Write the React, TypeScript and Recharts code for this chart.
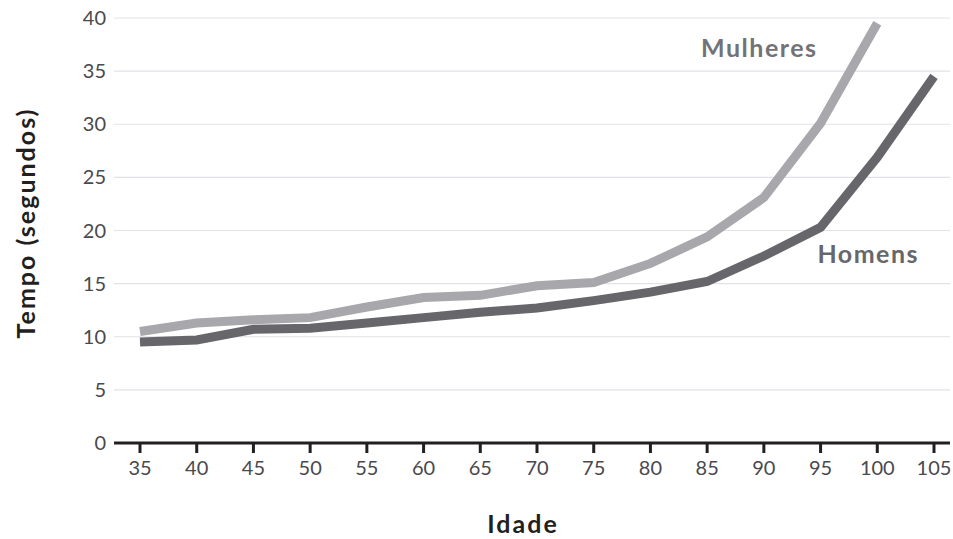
import React from "react";
import { LineChart, Line, XAxis, YAxis, CartesianGrid, ReferenceDot, Label } from "recharts";

const ages = [35, 40, 45, 50, 55, 60, 65, 70, 75, 80, 85, 90, 95, 100, 105];
const mulheres = [10.5, 11.3, 11.6, 11.8, 12.8, 13.7, 13.9, 14.8, 15.1, 16.9, 19.4, 23.1, 30.1, 39.5, null];
const homens = [9.5, 9.7, 10.7, 10.8, 11.3, 11.8, 12.3, 12.7, 13.4, 14.2, 15.2, 17.6, 20.3, 26.9, 34.5];
const yTicks = [0, 5, 10, 15, 20, 25, 30, 35, 40];

const data = ages.map((a, i) => ({ idade: a, mulheres: mulheres[i], homens: homens[i] }));

const FONT = "Lato, 'Open Sans', sans-serif";

export default function App() {
  return (
    <div style={{ position: "absolute", left: 0, top: 0, width: 953, height: 539, background: "#fff" }}>
      <LineChart width={953} height={539} data={data} margin={{ top: 18, right: 3, bottom: 0, left: 0 }}>
        <CartesianGrid vertical={false} stroke="#e1e1e7" strokeWidth={1.2} />
        <XAxis
          dataKey="idade"
          type="number"
          domain={[35, 105]}
          ticks={ages}
          height={96}
          padding={{ left: 26, right: 16 }}
          stroke="#231f20"
          strokeWidth={3}
          tickSize={10}
          tickMargin={8}
          tick={{ fill: "#4a494d", fontSize: 20, fontFamily: FONT }}
        >
          <Label
            value="Idade"
            position="insideBottom"
            offset={6}
            dx={-9}
            style={{ fill: "#231f20", fontSize: 25, fontWeight: 700, fontFamily: FONT, letterSpacing: 2 }}
          />
        </XAxis>
        <YAxis
          domain={[0, 40]}
          ticks={yTicks}
          width={114}
          axisLine={false}
          tickLine={false}
          tickSize={0}
          tickMargin={8}
          tick={{ fill: "#4a494d", fontSize: 20, fontFamily: FONT }}
        >
          <Label
            content={() => (
              <text
                x={25}
                y={223}
                transform="rotate(-90 25 223)"
                textAnchor="middle"
                dominantBaseline="central"
                style={{ fill: "#231f20", fontSize: 25, fontWeight: 700, fontFamily: FONT, letterSpacing: 2 }}
              >
                Tempo (segundos)
              </text>
            )}
          />
        </YAxis>
        <Line
          dataKey="mulheres"
          stroke="#a8a7ac"
          strokeWidth={9}
          dot={false}
          activeDot={false}
          isAnimationActive={false}
        />
        <Line
          dataKey="homens"
          stroke="#67666b"
          strokeWidth={9}
          dot={false}
          activeDot={false}
          isAnimationActive={false}
        />
        <ReferenceDot x={89.6} y={37.2} r={0} stroke="none" fill="none">
          <Label
            value="Mulheres"
            position="center"
            style={{ fill: "#737277", fontSize: 25, fontWeight: 700, fontFamily: FONT, letterSpacing: 1.5 }}
          />
        </ReferenceDot>
        <ReferenceDot x={99.2} y={17.8} r={0} stroke="none" fill="none">
          <Label
            value="Homens"
            position="center"
            style={{ fill: "#67666b", fontSize: 25, fontWeight: 700, fontFamily: FONT, letterSpacing: 1.5 }}
          />
        </ReferenceDot>
      </LineChart>
    </div>
  );
}
